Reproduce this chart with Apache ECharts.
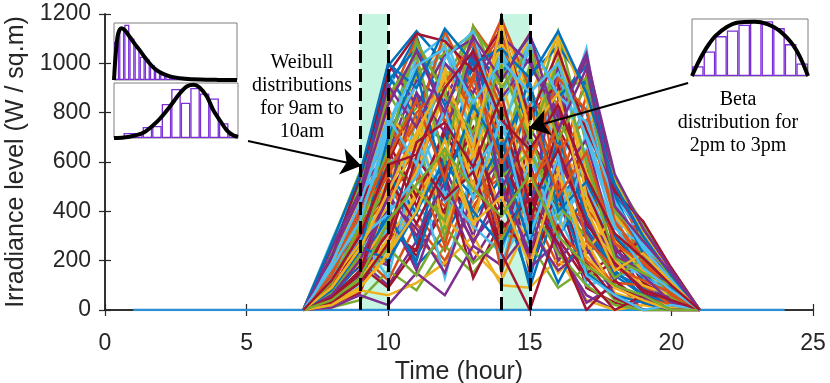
<!DOCTYPE html>
<html>
<head>
<meta charset="utf-8">
<script src="https://cdn.jsdelivr.net/npm/echarts@6/dist/echarts.min.js"></script>
<style>
  html, body { margin: 0; background: #fff; }
  #chart { width: 830px; height: 383px; }
</style>
</head>
<body>
<div id="chart"></div>
<script>
// hours covered by each daily profile (sunrise .. sunset)
const hours = [7, 8, 9, 10, 11, 12, 13, 14, 15, 16, 17, 18, 19, 20, 21];
// the whole day, flat zero at night
const allHours = [1, 2, 3, 4, 5, 6, 7, 8, 9, 10, 11, 12, 13, 14, 15, 16, 17, 18, 19, 20, 21, 22, 23, 24];
const nightValues = [0, 0, 0, 0, 0, 0, 0, 0, 0, 0, 0, 0, 0, 0, 0, 0, 0, 0, 0, 0, 0, 0, 0, 0];

// irradiance scenarios (W / sq.m), one row per day
const days = [
  [0, 120, 310, 620, 880, 540, 1020, 760, 430, 690, 300, 140, 60, 20, 0],
  [0, 60, 150, 280, 390, 240, 510, 330, 420, 180, 260, 90, 40, 0, 0],
  [0, 60, 180, 410, 950, 1080, 700, 1150, 880, 520, 610, 260, 180, 40, 0],
  [0, 130, 260, 190, 460, 580, 300, 640, 350, 520, 310, 150, 90, 20, 0],
  [0, 210, 450, 780, 560, 890, 1130, 640, 990, 830, 420, 350, 120, 80, 0],
  [0, 30, 95, 250, 420, 310, 680, 520, 240, 380, 150, 60, 0, 0, 0],
  [0, 20, 70, 350, 220, 410, 620, 260, 480, 290, 120, 200, 70, 30, 0],
  [0, 180, 520, 900, 1110, 760, 980, 1060, 720, 940, 800, 470, 290, 130, 0],
  [0, 170, 310, 520, 300, 180, 450, 540, 210, 430, 370, 120, 0, 0, 0],
  [0, 90, 260, 530, 700, 980, 450, 890, 1100, 640, 530, 210, 330, 60, 0],
  [0, 90, 200, 100, 280, 500, 200, 390, 560, 240, 60, 0, 40, 0, 0],
  [0, 250, 380, 690, 820, 1040, 860, 300, 560, 1020, 700, 400, 220, 110, 0],
  [0, 230, 420, 310, 600, 350, 710, 160, 640, 380, 500, 240, 130, 60, 0],
  [0, 40, 140, 320, 240, 520, 390, 710, 150, 470, 90, 30, 0, 0, 0],
  [0, 40, 110, 420, 180, 300, 520, 450, 120, 600, 230, 310, 110, 40, 0],
  [0, 150, 400, 860, 1000, 620, 1150, 990, 830, 560, 950, 520, 250, 160, 0],
  [0, 150, 340, 240, 510, 620, 380, 700, 480, 330, 450, 180, 200, 90, 0],
  [0, 70, 230, 180, 590, 820, 570, 1190, 620, 900, 380, 180, 90, 30, 0],
  [0, 10, 40, 160, 80, 260, 150, 310, 270, 90, 170, 40, 0, 0, 0],
  [0, 280, 540, 970, 740, 1120, 920, 830, 1050, 720, 1060, 330, 360, 140, 0],
  [0, 200, 390, 650, 420, 740, 560, 250, 690, 510, 150, 220, 150, 70, 0],
  [0, 110, 300, 560, 390, 700, 1010, 450, 880, 300, 460, 250, 140, 70, 0],
  [0, 80, 230, 120, 350, 200, 420, 580, 300, 700, 420, 90, 60, 20, 0],
  [0, 20, 80, 60, 110, 190, 300, 100, 90, 210, 40, 0, 20, 0, 0],
  [0, 120, 280, 400, 160, 480, 280, 430, 600, 200, 340, 260, 80, 40, 0],
  [0, 200, 470, 720, 1080, 900, 630, 1100, 760, 1130, 670, 540, 300, 170, 0],
  [0, 50, 160, 330, 560, 130, 590, 200, 400, 560, 100, 130, 170, 60, 0],
  [0, 130, 350, 470, 660, 380, 820, 610, 370, 800, 560, 290, 110, 50, 0],
  [0, 190, 370, 580, 270, 650, 370, 540, 90, 450, 580, 300, 120, 100, 0],
  [0, 60, 210, 820, 530, 1060, 780, 940, 1120, 480, 870, 440, 200, 90, 0],
  [0, 30, 90, 220, 480, 380, 240, 120, 360, 150, 280, 70, 30, 0, 0],
  [0, 230, 490, 640, 930, 850, 1090, 700, 410, 990, 320, 120, 260, 120, 0],
  [0, 140, 320, 500, 710, 290, 800, 480, 720, 370, 600, 340, 230, 110, 0],
  [0, 100, 170, 380, 770, 470, 600, 1040, 680, 330, 720, 380, 170, 40, 0],
  [0, 70, 180, 90, 250, 560, 130, 360, 230, 480, 190, 50, 0, 10, 0],
  [0, 160, 420, 990, 1130, 1000, 860, 560, 950, 1070, 910, 500, 340, 150, 0],
  [0, 240, 440, 760, 540, 420, 680, 290, 520, 660, 410, 270, 190, 80, 0],
  [0, 50, 120, 290, 460, 640, 330, 850, 500, 610, 200, 90, 50, 10, 0],
  [0, 100, 240, 450, 330, 150, 470, 610, 170, 280, 30, 100, 50, 0, 0],
  [0, 270, 560, 880, 690, 930, 1140, 980, 1010, 760, 600, 300, 150, 100, 0],
  [0, 160, 300, 130, 620, 470, 340, 230, 610, 390, 480, 200, 140, 50, 0],
  [0, 80, 280, 600, 850, 570, 710, 400, 790, 920, 480, 230, 280, 70, 0],
  [0, 50, 190, 380, 200, 590, 460, 680, 380, 110, 330, 160, 60, 30, 0],
  [0, 190, 330, 450, 620, 790, 950, 1120, 600, 850, 1000, 350, 190, 130, 0],
  [0, 210, 360, 560, 780, 330, 640, 420, 290, 580, 240, 380, 250, 120, 0],
  [0, 10, 60, 20, 150, 60, 260, 180, 330, 160, 250, 60, 0, 0, 0],
  [0, 20, 120, 250, 140, 340, 190, 290, 440, 230, 100, 20, 0, 0, 0],
  [0, 140, 440, 750, 1020, 1110, 800, 880, 1080, 590, 820, 450, 320, 160, 0],
  [0, 180, 420, 680, 460, 720, 510, 820, 350, 740, 520, 290, 160, 90, 0],
  [0, 220, 510, 950, 780, 680, 1060, 620, 270, 700, 380, 150, 90, 40, 0],
  [0, 110, 210, 310, 580, 260, 730, 150, 570, 320, 200, 110, 100, 20, 0],
  [0, 90, 190, 350, 560, 880, 500, 1000, 710, 1020, 560, 280, 160, 80, 0],
  [0, 60, 140, 470, 300, 520, 270, 500, 230, 620, 360, 230, 80, 50, 0],
  [0, 170, 380, 680, 960, 1040, 1120, 760, 970, 880, 940, 530, 350, 120, 0],
  [0, 250, 480, 590, 690, 440, 560, 740, 660, 270, 650, 420, 260, 130, 0],
  [0, 40, 150, 530, 350, 580, 740, 330, 450, 270, 0, 120, 30, 0, 0],
  [0, 140, 260, 200, 400, 610, 400, 260, 510, 480, 150, 60, 30, 0, 0],
  [0, 260, 470, 840, 1100, 760, 930, 1180, 900, 650, 770, 410, 240, 150, 0],
  [0, 120, 270, 420, 700, 950, 620, 920, 560, 1100, 460, 200, 100, 60, 0],
  [0, 200, 400, 1000, 830, 1030, 1100, 860, 1020, 800, 1040, 490, 300, 110, 0],
  [0, 70, 220, 610, 490, 360, 870, 540, 640, 420, 300, 130, 210, 50, 0],
  [0, 150, 360, 720, 910, 1070, 680, 1050, 820, 960, 620, 330, 270, 140, 0],
  [0, 30, 110, 270, 620, 450, 560, 230, 0, 340, 130, 0, 60, 0, 0],
  [0, 240, 520, 930, 1060, 830, 1010, 960, 1110, 860, 990, 460, 230, 90, 0],
  [0, 100, 320, 560, 760, 1130, 900, 700, 480, 750, 280, 170, 120, 70, 0],
  [0, 180, 450, 800, 650, 980, 780, 1080, 870, 1120, 850, 520, 310, 150, 0],
  [0, 60, 200, 460, 880, 720, 1040, 490, 740, 540, 690, 250, 140, 30, 0],
  [0, 230, 500, 870, 1030, 600, 1150, 900, 1060, 690, 910, 400, 290, 130, 0],
  [0, 130, 290, 390, 540, 810, 450, 780, 300, 620, 140, 60, 0, 20, 0],
  [0, 210, 540, 960, 1120, 1090, 970, 1140, 780, 1050, 730, 480, 360, 170, 0],
  [0, 80, 240, 700, 970, 500, 830, 640, 930, 400, 520, 300, 180, 90, 0],
  [0, 160, 410, 540, 800, 920, 1080, 820, 600, 940, 810, 360, 210, 60, 0],
  [0, 20, 90, 230, 400, 690, 350, 460, 180, 560, 220, 90, 40, 0, 0],
  [0, 250, 480, 910, 740, 1000, 880, 1110, 1000, 780, 1020, 550, 330, 160, 0],
  [0, 110, 340, 650, 1090, 870, 720, 990, 690, 1010, 600, 210, 150, 100, 0],
  [0, 190, 430, 780, 590, 1020, 1130, 700, 1090, 870, 760, 440, 250, 120, 0],
  [0, 50, 160, 310, 680, 760, 580, 870, 420, 650, 350, 190, 80, 40, 0],
  [0, 270, 550, 1000, 900, 1140, 1000, 1060, 940, 1130, 880, 510, 300, 140, 0],
  [0, 140, 380, 620, 850, 530, 950, 590, 830, 460, 640, 270, 190, 70, 0],
  [0, 90, 250, 480, 720, 940, 660, 1160, 720, 880, 410, 160, 230, 110, 0],
  [0, 220, 460, 830, 1050, 800, 1110, 930, 1120, 730, 980, 420, 280, 150, 0],
  [0, 40, 130, 360, 510, 650, 490, 380, 550, 300, 180, 100, 60, 0, 0],
  [0, 170, 360, 740, 990, 1060, 840, 1010, 880, 1000, 700, 340, 170, 80, 0],
  [0, 120, 300, 590, 630, 900, 1050, 770, 650, 830, 540, 310, 210, 100, 0]
];

// highlighted hour windows and their dashed borders
const shadeBands = [[9, 10], [14, 15]];
const dashHours = [9, 10, 14, 15];

// inset histograms (normalised bin heights) and fitted pdf curves [x fraction, height]
const weibullTopBins = [0.67, 0.92, 0.97, 0.73, 0.58, 0.41, 0.36, 0.26, 0.17, 0.11, 0.07, 0.04,
  0.03, 0.02, 0.01, 0.01, 0.005, 0, 0, 0, 0, 0, 0, 0];
const weibullTopCurve = [[0, 0], [0.012, 0.4], [0.028, 0.75], [0.045, 0.88], [0.062, 0.91],
  [0.09, 0.87], [0.13, 0.75], [0.17, 0.63], [0.21, 0.52], [0.25, 0.4], [0.29, 0.29],
  [0.33, 0.2], [0.37, 0.14], [0.43, 0.08], [0.48, 0.05], [0.58, 0.02], [0.7, 0.007],
  [0.85, 0.002], [1, 0]];
const weibullBottomBins = [0.01, 0.09, 0.09, 0.2, 0.22, 0.62, 0.89, 0.64, 0.91, 0.81, 0.72, 0.27, 0.07];
const weibullBottomCurve = [[0, 0], [0.08, 0.01], [0.16, 0.04], [0.24, 0.1], [0.32, 0.24],
  [0.37, 0.35], [0.45, 0.57], [0.53, 0.81], [0.59, 0.94], [0.64, 0.97], [0.69, 0.92],
  [0.75, 0.75], [0.8, 0.51], [0.86, 0.3], [0.91, 0.14], [0.96, 0.05], [1, 0.02]];
const betaBins = [0.17, 0.43, 0.7, 0.8, 0.9, 0.96, 0.96, 0.84, 0.56, 0.22];
const betaCurve = [[0, 0], [0.05, 0.22], [0.1, 0.41], [0.15, 0.57], [0.2, 0.7], [0.3, 0.86],
  [0.4, 0.94], [0.54, 0.95], [0.65, 0.91], [0.75, 0.8], [0.85, 0.6], [0.9, 0.45],
  [0.95, 0.25], [1, 0]];

const lineColors = ['#0072BD', '#D95319', '#EDB120', '#7E2F8E', '#77AC30', '#4DBEEE', '#A2142F'];
const axisColor = '#262626';
const histColor = '#7b2fd6';

const myChart = echarts.init(document.getElementById('chart'), null, { renderer: 'canvas' });

const series = [];

// shaded windows (behind everything)
series.push({
  type: 'line', xAxisIndex: 0, yAxisIndex: 0, data: [], z: 1, silent: true,
  markArea: {
    silent: true,
    itemStyle: { color: '#c6f6e1', opacity: 1 },
    data: shadeBands.map(b => [{ xAxis: b[0] }, { xAxis: b[1] }])
  }
});

// night baseline
series.push({
  type: 'line', xAxisIndex: 0, yAxisIndex: 0, z: 2,
  data: allHours.map((h, i) => [h, nightValues[i]]),
  showSymbol: false, silent: true,
  lineStyle: { color: '#2b8fd4', width: 2.5 }
});

days.forEach((row, k) => {
  series.push({
    type: 'line', xAxisIndex: 0, yAxisIndex: 0, z: 2,
    data: hours.map((h, i) => [h, row[i]]),
    showSymbol: false, silent: true,
    lineStyle: { color: lineColors[k % lineColors.length], width: 2.5, join: 'miter' }
  });
});

// dashed hour borders
series.push({
  type: 'line', xAxisIndex: 0, yAxisIndex: 0, data: [], z: 5, silent: true,
  markLine: {
    silent: true, symbol: ['none', 'none'], label: { show: false },
    lineStyle: { color: '#000', width: 3, type: [13, 6], opacity: 1 },
    data: dashHours.map(h => ({ xAxis: h }))
  }
});

// annotation arrows
series.push({
  type: 'line', xAxisIndex: 0, yAxisIndex: 0, data: [], z: 6, silent: true,
  markLine: {
    silent: true, symbol: ['none', 'arrow'], symbolSize: 20, label: { show: false },
    lineStyle: { color: '#000', width: 2, type: 'solid', opacity: 1 },
    data: [
      [{ coord: [5.05, 685] }, { coord: [9.05, 585] }],
      [{ coord: [20.59, 920] }, { coord: [14.97, 738] }]
    ]
  }
});

// inset histograms + pdf curves
function inset(bins, curve, catAxis, valAxis, yAxis) {
  series.push({
    type: 'bar', xAxisIndex: catAxis, yAxisIndex: yAxis, data: bins, z: 7,
    barCategoryGap: '0%', silent: true,
    itemStyle: { color: '#fff', borderColor: histColor, borderWidth: 1.3 }
  });
  series.push({
    type: 'line', xAxisIndex: valAxis, yAxisIndex: yAxis, data: curve, z: 8,
    smooth: 0.3, showSymbol: false, clip: false, silent: true,
    lineStyle: { color: '#000', width: 4 }
  });
}
inset(weibullTopBins, weibullTopCurve, 2, 3, 2);
inset(weibullBottomBins, weibullBottomCurve, 4, 5, 3);
inset(betaBins, betaCurve, 6, 7, 4);

function hiddenCat(grid, n) {
  return { gridIndex: grid, type: 'category', data: Array.from({ length: n }, (_, i) => i), show: false, boundaryGap: true };
}
function hiddenVal(grid) {
  return { gridIndex: grid, type: 'value', min: 0, max: 1, show: false };
}

const insetGrid = { show: true, borderColor: '#7f7f7f', borderWidth: 1, backgroundColor: '#fff', z: 3, outerBoundsMode: 'none', containLabel: false };

const option = {
  animation: false,
  backgroundColor: '#fff',
  grid: [
    { left: 105, right: 17, top: 14, bottom: 73, outerBoundsMode: 'none', containLabel: false },
    Object.assign({ left: 114, top: 23, width: 123, height: 57 }, insetGrid),
    Object.assign({ left: 114, top: 83, width: 124, height: 55 }, insetGrid),
    Object.assign({ left: 692, top: 19, width: 116, height: 57 }, insetGrid)
  ],
  xAxis: [
    {
      gridIndex: 0, type: 'value', min: 0, max: 25, interval: 5, position: 'bottom',
      name: 'Time (hour)', nameLocation: 'middle', nameGap: 44,
      nameTextStyle: { fontSize: 25, color: axisColor, fontFamily: 'Liberation Sans' },
      axisLine: { lineStyle: { color: axisColor, width: 1.5 } },
      axisTick: { inside: true, length: 6, lineStyle: { color: axisColor, width: 1.2 } },
      axisLabel: { fontSize: 23, color: axisColor, margin: 22, fontFamily: 'Liberation Sans' },
      splitLine: { show: false }
    },
    {
      gridIndex: 0, type: 'value', min: 0, max: 25, interval: 5, position: 'top',
      axisLine: { lineStyle: { color: axisColor, width: 1.5 } },
      axisTick: { inside: true, length: 6, lineStyle: { color: axisColor, width: 1.2 } },
      axisLabel: { show: false }, splitLine: { show: false }
    },
    hiddenCat(1, weibullTopBins.length), hiddenVal(1),
    hiddenCat(2, weibullBottomBins.length), hiddenVal(2),
    hiddenCat(3, betaBins.length), hiddenVal(3)
  ],
  yAxis: [
    {
      gridIndex: 0, type: 'value', min: 0, max: 1200, interval: 200, position: 'left',
      name: 'Irradiance level (W / sq.m)', nameLocation: 'middle', nameGap: 70,
      nameTextStyle: { fontSize: 25, color: axisColor, fontFamily: 'Liberation Sans' },
      axisLine: { show: true, lineStyle: { color: axisColor, width: 1.5 } },
      axisTick: { show: true, inside: true, length: 6, lineStyle: { color: axisColor, width: 1.2 } },
      axisLabel: { fontSize: 23, color: axisColor, margin: 14, fontFamily: 'Liberation Sans', formatter: v => String(v) },
      splitLine: { show: false }
    },
    {
      gridIndex: 0, type: 'value', min: 0, max: 1200, interval: 200, position: 'right',
      axisLine: { show: true, lineStyle: { color: axisColor, width: 1.5 } },
      axisTick: { show: true, inside: true, length: 6, lineStyle: { color: axisColor, width: 1.2 } },
      axisLabel: { show: false }, splitLine: { show: false }
    },
    hiddenVal(1), hiddenVal(2), hiddenVal(3)
  ],
  graphic: [
    {
      type: 'text', x: 302, y: 51, z: 20, silent: true,
      style: {
        text: 'Weibull\ndistributions\nfor 9am to\n10am',
        font: '20px "Liberation Serif"', fill: '#000', textAlign: 'center', lineHeight: 23
      }
    },
    {
      type: 'text', x: 738, y: 88, z: 20, silent: true,
      style: {
        text: 'Beta\ndistribution for\n2pm to 3pm',
        font: '20px "Liberation Serif"', fill: '#000', textAlign: 'center', lineHeight: 23
      }
    }
  ],
  series: series
};

option && myChart.setOption(option);
</script>
</body>
</html>
